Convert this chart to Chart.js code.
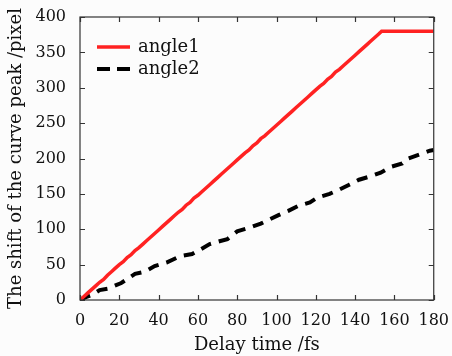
<!DOCTYPE html>
<html>
<head>
<meta charset="utf-8">
<script src="https://cdn.jsdelivr.net/npm/chart.js@4.4.0/dist/chart.umd.min.js"></script>
<style>
  html, body { margin: 0; padding: 0; background: #fcfcfc; }
  #wrap { width: 452px; height: 356px; }
</style>
</head>
<body>
<div id="wrap"><canvas id="c" width="452" height="356"></canvas></div>
<script>
// ---- data ----
const angle1X = [0,2,4,6,8,10,12,14,16,18,20,22,24,26,28,30,32,34,36,38,40,42,44,46,48,50,52,54,56,58,60,62,64,66,68,70,72,74,76,78,80,82,84,86,88,90,92,94,96,98,100,102,104,106,108,110,112,114,116,118,120,122,124,126,128,130,132,134,136,138,140,142,144,146,148,150,152,153.5,160,170,180];
const angle1Y = [0,5,10,15,20,25,29,35,40,45,50,54,60,64,70,74,79,84,89,94,99,104,109,114,119,124,128,134,138,144,148,153,158,163,168,173,178,183,188,193,198,203,208,212,218,222,228,232,237,242,247,252,257,262,267,272,277,282,287,292,297,302,306,312,316,322,326,331,336,341,346,351,356,361,366,371,376,380,380,380,380];
const angle2X = [0,3,6,10,14,21,28,33,38,44,51,57,61,66,71,75,80,86,92,101,106,111,117,121,127,132,137,142,148,153,158,164,167,173,178,180];
const angle2Y = [0,4,7,14,16,24,37,40,48,53,62,65,71,79,83,86,97,102,108,120,126,133,138,145,150,156,163,170,175,180,188,193,200,206,211,212];
const seriesNames = ['angle1', 'angle2'];
const xTicks = [0,20,40,60,80,100,120,140,160,180];
const yTicks = [0,50,100,150,200,250,300,350,400];
const xTitle = 'Delay time /fs';
const yTitle = 'The shift of the curve peak /pixel';

const FONT = "'DejaVu Serif', 'Liberation Serif', serif";
const TXT = '#111';

function pts(xs, ys) { return xs.map((x, i) => ({ x: x, y: ys[i] })); }

const frameTicks = {
  id: 'frameTicks',
  afterDraw(chart) {
    const ctx = chart.ctx, a = chart.chartArea;
    const xs = chart.scales.x, ys = chart.scales.y;
    ctx.save();
    ctx.strokeStyle = '#333';
    ctx.lineWidth = 1.2;
    ctx.strokeRect(a.left, a.top, a.right - a.left, a.bottom - a.top);
    ctx.beginPath();
    const L = 5;
    xTicks.forEach(v => {
      const px = Math.round(xs.getPixelForValue(v)) + 0.5;
      ctx.moveTo(px, a.bottom); ctx.lineTo(px, a.bottom - L);
      ctx.moveTo(px, a.top); ctx.lineTo(px, a.top + L);
    });
    yTicks.forEach(v => {
      const py = Math.round(ys.getPixelForValue(v)) + 0.5;
      ctx.moveTo(a.left, py); ctx.lineTo(a.left + L, py);
      ctx.moveTo(a.right, py); ctx.lineTo(a.right - L, py);
    });
    ctx.stroke();

    // legend inside plot
    const lx = a.left + 17, ly1 = a.top + 30, ly2 = a.top + 52;
    ctx.lineCap = 'butt';
    ctx.strokeStyle = '#f22';
    ctx.lineWidth = 3.5;
    ctx.setLineDash([]);
    ctx.beginPath(); ctx.moveTo(lx, ly1); ctx.lineTo(lx + 33, ly1); ctx.stroke();
    ctx.strokeStyle = '#000';
    ctx.lineWidth = 4;
    ctx.setLineDash([13, 7]);
    ctx.beginPath(); ctx.moveTo(lx, ly2); ctx.lineTo(lx + 33, ly2); ctx.stroke();
    ctx.setLineDash([]);
    ctx.fillStyle = TXT;
    ctx.font = "18px " + FONT;
    ctx.textBaseline = 'middle';
    ctx.textAlign = 'left';
    ctx.fillText(seriesNames[0], lx + 41, ly1);
    ctx.fillText(seriesNames[1], lx + 41, ly2);
    ctx.restore();
  }
};

new Chart(document.getElementById('c'), {
  type: 'line',
  data: {
    datasets: [
      { label: seriesNames[0], data: pts(angle1X, angle1Y), borderColor: '#f22', borderWidth: 3.5, pointRadius: 0, tension: 0, fill: false },
      { label: seriesNames[1], data: pts(angle2X, angle2Y), borderColor: '#000', borderWidth: 4, borderDash: [11, 8], pointRadius: 0, tension: 0, fill: false }
    ]
  },
  options: {
    responsive: false,
    animation: false,
    events: [],
    layout: { padding: { top: 17, right: 16, left: 0, bottom: 0 } },
    plugins: { legend: { display: false }, tooltip: { enabled: false } },
    scales: {
      x: {
        type: 'linear', min: 0, max: 180,
        afterBuildTicks(s) { s.ticks = xTicks.map(v => ({ value: v })); },
        afterFit(s) { s.height = 56; },
        grid: { display: false },
        border: { display: false },
        ticks: { color: TXT, font: { family: FONT, size: 16 }, padding: 3, maxRotation: 0 },
        title: { display: true, text: xTitle, color: TXT, font: { family: FONT, size: 18 }, padding: { top: 0, bottom: 0 } }
      },
      y: {
        type: 'linear', min: 0, max: 400,
        afterBuildTicks(s) { s.ticks = yTicks.map(v => ({ value: v })); },
        afterFit(s) { s.width = 80; },
        grid: { display: false },
        border: { display: false },
        ticks: { color: TXT, font: { family: FONT, size: 16 }, padding: 6 },
        title: { display: true, text: yTitle, color: TXT, font: { family: FONT, size: 18 }, padding: { top: 6, bottom: 0 } }
      }
    }
  },
  plugins: [frameTicks]
});
</script>
</body>
</html>
